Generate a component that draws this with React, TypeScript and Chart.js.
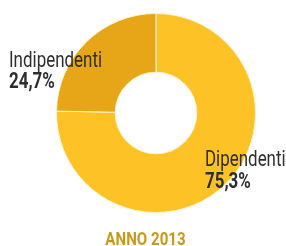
import { useEffect, useRef } from "react";
import { Chart, registerables } from "chart.js";

Chart.register(...registerables);

const categories = ["Dipendenti", "Indipendenti"];
const shares = [75.3, 24.7];
const valueLabels = ["75,3%", "24,7%"];
const chartTitle = "ANNO 2013";
const sliceColors = ["#FDC326", "#E6A617"];

// label placement relative to the doughnut centre (layout only)
const labelOffsets = [
  { dx: 49, dy1: 53, dy2: 75 },
  { dx: -147, dy1: -46, dy2: -25 },
];

const FONT = "Roboto, 'DejaVu Sans', sans-serif";
const CONDENSE = 0.77;
const TITLE_CONDENSE = 0.84;

function drawText(ctx: any, text: string, x: number, y: number, font: string, sx: number, align: "left" | "center") {
  ctx.save();
  ctx.font = font;
  const w = ctx.measureText(text).width * sx;
  const left = align === "center" ? x - w / 2 : x;
  ctx.translate(left, y);
  ctx.scale(sx, 1);
  ctx.textAlign = "left";
  ctx.textBaseline = "alphabetic";
  ctx.fillText(text, 0, 0);
  ctx.restore();
}

const labelPlugin = {
  id: "sliceLabels",
  afterDraw(chart: any) {
    const ctx = chart.ctx;
    const meta = chart.getDatasetMeta(0);
    ctx.save();
    meta.data.forEach((arc: any, i: number) => {
      const { x, y } = arc.getProps(["x", "y"], true);
      const off = labelOffsets[i];
      ctx.fillStyle = "#2E2E2E";
      drawText(ctx, categories[i], x + off.dx, y + off.dy1, `22px ${FONT}`, CONDENSE, "left");
      drawText(ctx, valueLabels[i], x + off.dx, y + off.dy2, `bold 22px ${FONT}`, CONDENSE, "left");
    });
    const first = meta.data[0];
    if (first) {
      const { x } = first.getProps(["x"], true);
      ctx.fillStyle = "#C8991C";
      drawText(ctx, chartTitle, x - 10.5, chart.height - 1, `bold 18px ${FONT}`, TITLE_CONDENSE, "center");
    }
    ctx.restore();
  },
};

export default function App() {
  const ref = useRef<HTMLCanvasElement | null>(null);
  useEffect(() => {
    document.body.style.margin = "0";
    if (!ref.current) return;
    const chart = new Chart(ref.current, {
      type: "doughnut",
      data: {
        labels: categories,
        datasets: [
          {
            data: shares,
            backgroundColor: sliceColors,
            borderColor: "#FFF3C8",
            borderWidth: 1,
          },
        ],
      },
      options: {
        responsive: false,
        animation: false,
        events: [],
        cutout: "41%",
        rotation: 0,
        layout: { padding: { left: 56, right: 30, top: 13, bottom: 33 } },
        plugins: {
          legend: { display: false },
          tooltip: { enabled: false },
          title: { display: false },
        },
      },
      plugins: [labelPlugin],
    });
    return () => chart.destroy();
  }, []);
  return (
    <div style={{ width: 286, height: 246 }}>
      <canvas ref={ref} width={286} height={246} />
    </div>
  );
}
